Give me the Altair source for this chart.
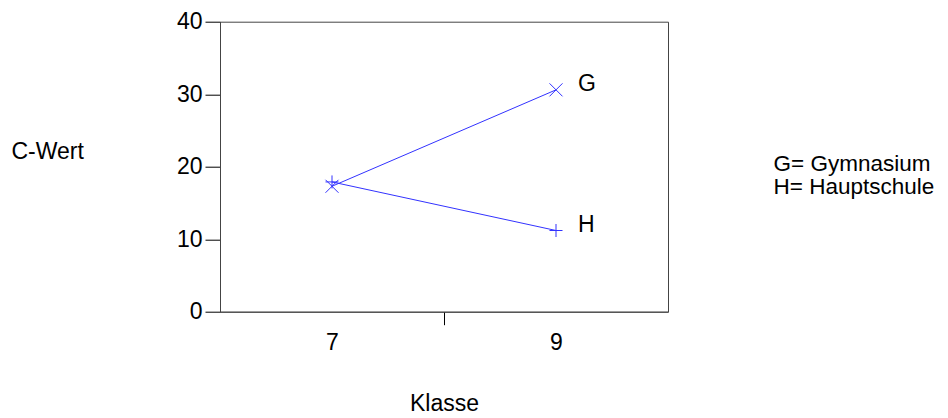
import altair as alt
import pandas as pd

# ---- data ----
klasse = [7, 9]
series = ["G", "H"]
legend_labels = ["G= Gymnasium", "H= Hauptschule"]
g_values = [17.3, 30.6]
h_values = [17.9, 11.2]
y_ticks = [0, 10, 20, 30, 40]
x_ticks = [7, 8, 9]

rows = []
for s, lab, vals in zip(series, legend_labels, [g_values, h_values]):
    for k, v in zip(klasse, vals):
        rows.append({"Klasse": k, "C": v, "series": s, "legend": lab})
df = pd.DataFrame(rows)

BLUE = "#3232ff"
FONT = "Liberation Sans"
FS = 23
XPATH = "M-1,-1L1,1M-1,1L1,-1"
PLUSPATH = "M-1,0L1,0M0,-1L0,1"

x_enc = alt.X(
    "Klasse:Q",
    scale=alt.Scale(domain=[6, 10], nice=False, zero=False),
    axis=alt.Axis(
        values=x_ticks,
        title="Klasse",
        labelExpr="datum.value == 8 ? '' : datum.label",
        tickOpacity={"condition": {"test": "datum.value == 8", "value": 1}, "value": 0},
        tickSize=13,
        labelPadding=7,
        grid=False,
        titleY=99,
        titleBaseline="alphabetic",
        labelFontSize=FS,
        titleFontSize=FS,
    ),
)
y_enc = alt.Y(
    "C:Q",
    scale=alt.Scale(domain=[0, 40], nice=False),
    axis=alt.Axis(
        values=y_ticks,
        title="C-Wert",
        titleAngle=0,
        titleAlign="left",
        titleX=-209,
        titleY=137,
        titleBaseline="alphabetic",
        tickSize=15,
        labelPadding=3,
        grid=False,
        labelFontSize=FS,
        titleFontSize=FS,
    ),
)

lines = alt.Chart(df).mark_line(color=BLUE, strokeWidth=1).encode(
    x=x_enc, y=y_enc, detail="series:N"
)

points = alt.Chart(df).mark_point(
    filled=False, strokeWidth=1, size=169, color=BLUE, opacity=1
).encode(
    x=x_enc,
    y=y_enc,
    shape=alt.Shape(
        "legend:N",
        scale=alt.Scale(domain=legend_labels, range=[XPATH, PLUSPATH]),
        legend=alt.Legend(
            title=None,
            orient="none",
            legendX=531,
            legendY=131.5,
            symbolOpacity=0,
            symbolStrokeWidth=0,
            symbolSize=0,
            labelOffset=0,
            padding=0,
            labelFontSize=22.5,
            labelFont=FONT,
            labelColor="black",
            labelLimit=400,
            rowPadding=-5,
        ),
    ),
)

labels = alt.Chart(df).transform_filter("datum.Klasse == 9").mark_text(
    align="left", baseline="alphabetic", dx=22, dy=1, fontSize=FS, font=FONT, color="black"
).encode(x=x_enc, y=y_enc, text="series:N")

chart = (
    alt.layer(lines, points, labels)
    .properties(
        width=448,
        height=290,
        autosize=alt.AutoSizeParams(type="none"),
        padding={"left": 212, "top": 13.7, "right": 272, "bottom": 106.3},
    )
    .configure_axis(
        labelFont=FONT,
        titleFont=FONT,
        labelColor="black",
        titleColor="black",
        titleFontWeight="normal",
        domainColor="#444",
        tickColor="black",
    )
    .configure_view(stroke="#444", strokeWidth=1)
)

chart.save("out.html", embed_options={"renderer": "svg", "actions": False})
